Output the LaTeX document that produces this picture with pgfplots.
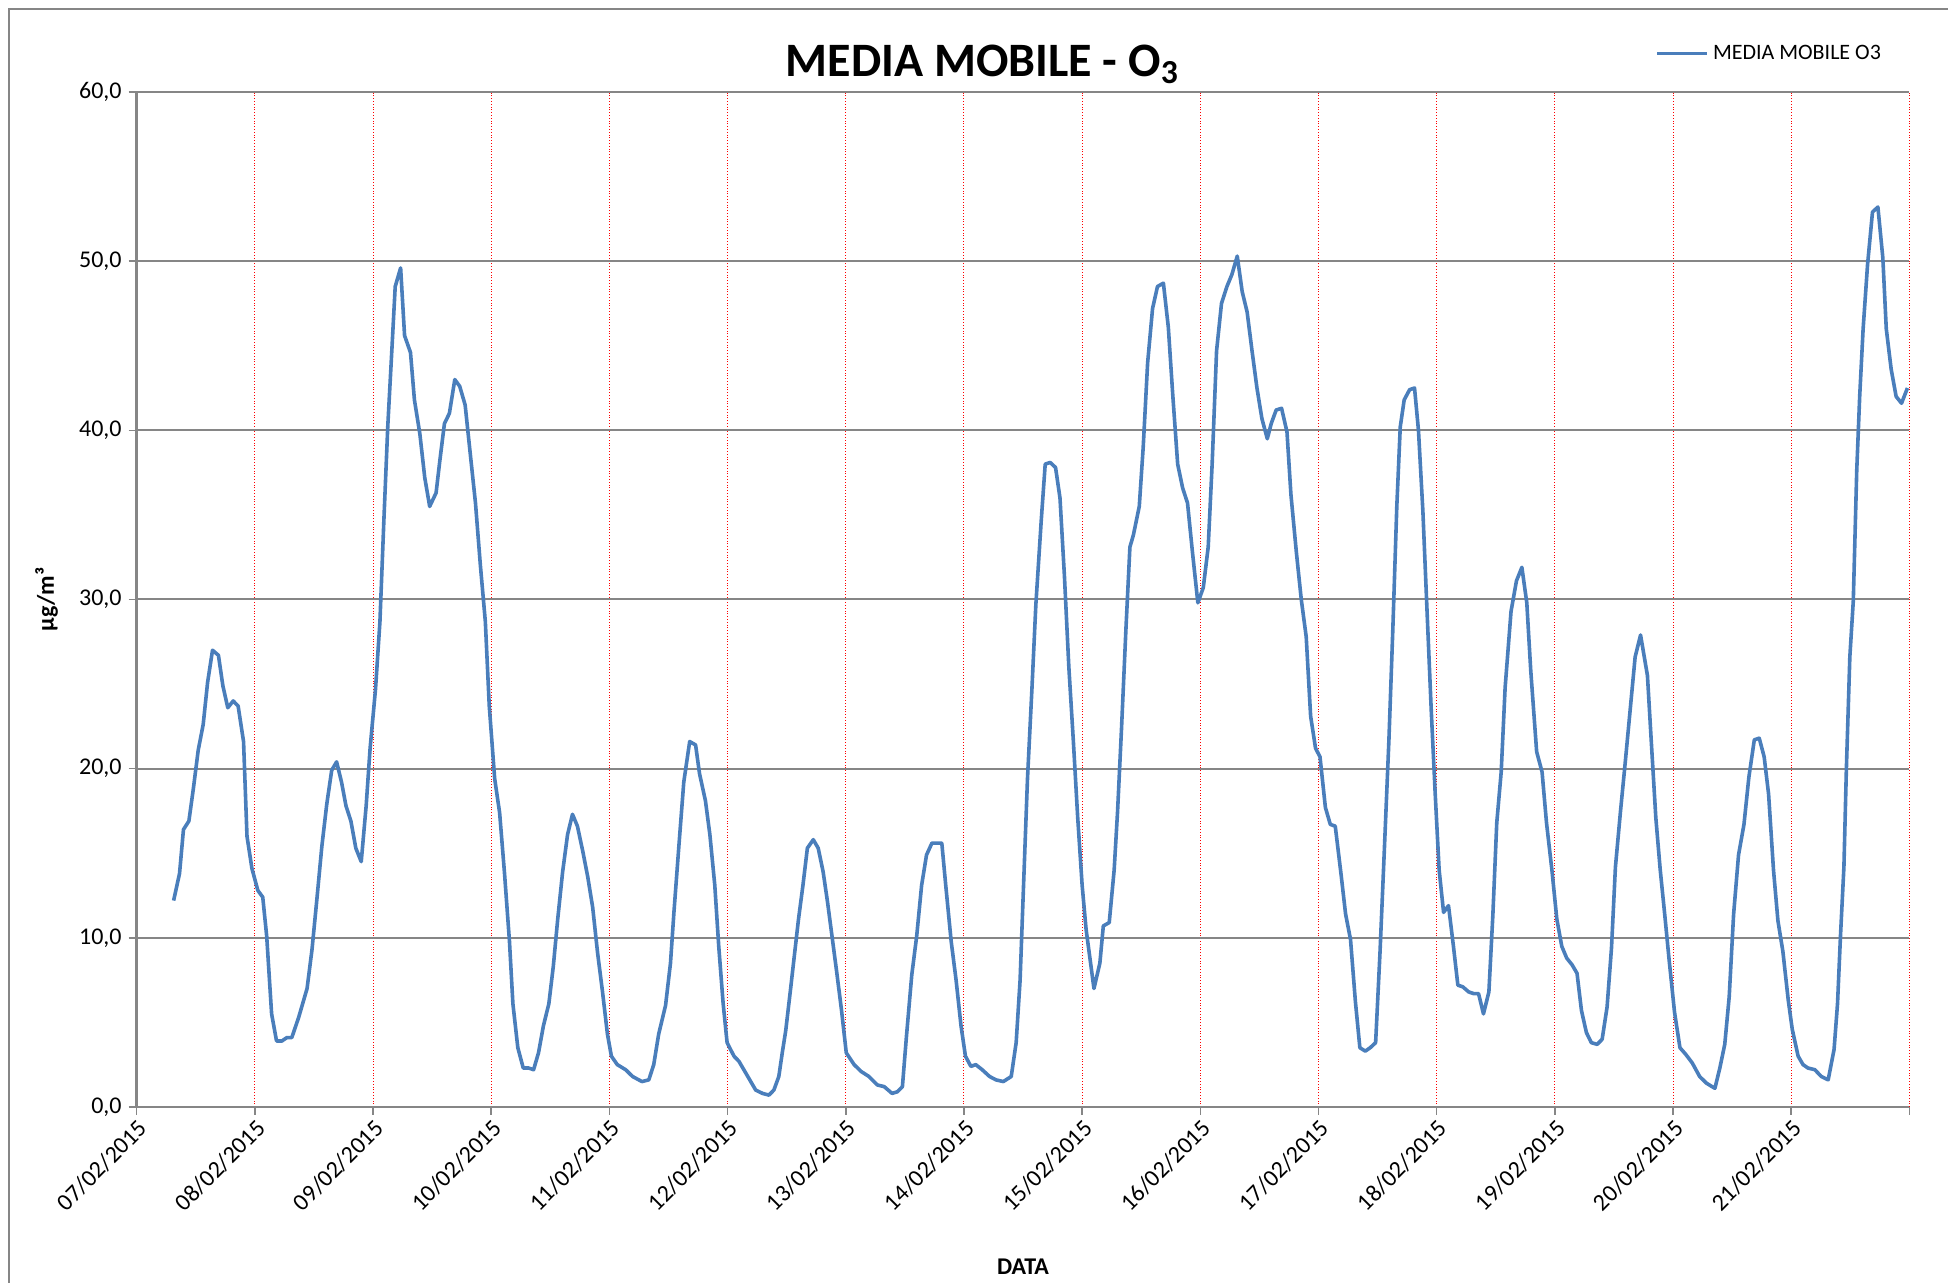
\documentclass[border=0pt]{standalone}
\usepackage{fontspec}
\setmainfont{Carlito}
\usepackage{pgfplots}
\pgfplotsset{compat=1.18}
\definecolor{serie}{RGB}{74,126,187}
\definecolor{griglia}{RGB}{134,134,134}

\begin{document}
\begin{tikzpicture}
\useasboundingbox (-68.35pt,-88pt) rectangle (905.7pt,553.5pt);
\draw[griglia, line width=1pt] (-64pt,-90pt) -- (-64pt,549.2pt) -- (910pt,549.2pt);
\begin{axis}[
  at={(0,0)}, anchor=south west,
  scale only axis, width=886.4pt, height=507.5pt,
  xmin=0, xmax=360, ymin=0, ymax=60,
  axis x line=bottom, axis y line=left,
  axis line style={-, griglia, line width=1.3pt},
  xtick={0,24,...,360},
  xticklabels={07/02/2015,08/02/2015,09/02/2015,10/02/2015,11/02/2015,12/02/2015,13/02/2015,14/02/2015,15/02/2015,16/02/2015,17/02/2015,18/02/2015,19/02/2015,20/02/2015,21/02/2015,},
  ytick={0,10,...,60},
  tick align=outside, major tick length=4pt,
  tick style={griglia, line width=0.8pt},
  grid=major,
  x grid style={red, densely dotted, line width=0.5pt},
  y grid style={griglia, line width=1pt},
  scaled y ticks=false,
  /pgf/number format/assume math mode=true,
  yticklabel style={/pgf/number format/fixed, /pgf/number format/fixed zerofill,
    /pgf/number format/precision=1, /pgf/number format/use comma,
    font=\fontsize{12}{14}\selectfont},
  xticklabel style={rotate=45, anchor=north east, inner sep=1pt, font=\fontsize{12}{14}\selectfont},
  title={MEDIA MOBILE - O\textsubscript{3}},
  title style={at={(0.477,1)}, anchor=base, yshift=1.9pt, font=\fontsize{24}{28}\selectfont\bfseries},
  xlabel={DATA},
  xlabel style={at={(0.5,-0.1576)}, anchor=center, font=\fontsize{12}{14}\selectfont\bfseries},
  ylabel={µg/m³},
  ylabel style={at={(-0.0508,0.5)}, anchor=center, font=\fontsize{12}{14}\selectfont\bfseries},
  legend style={draw=none, fill=none, at={(0.8565,1.038)}, anchor=west, inner sep=0pt,
    font=\fontsize{11}{13}\selectfont},
  legend cell align=left,
  legend image code/.code={\draw[#1, line width=1.8pt] (0pt,0pt) -- (25pt,0pt);},
]
\addplot[serie, line width=1.8pt, line join=round] coordinates {
(7.5,12.2) (8.7,13.8) (9.5,16.4) (10.6,16.9) (11.5,18.8) (12.5,21.1) (13.5,22.6) (14.4,25.1)
(15.4,27.0) (16.6,26.7) (17.5,24.9) (18.5,23.6) (19.6,24.0) (20.6,23.7) (21.7,21.6) (22.4,16.0)
(23.4,14.1) (24.6,12.8) (25.6,12.4) (26.4,10.1) (27.4,5.5) (28.4,3.9) (29.5,3.9) (30.5,4.1)
(31.5,4.1) (32.9,5.3) (34.6,7.0) (35.6,9.3) (36.6,12.3) (37.6,15.4) (38.6,17.9) (39.6,19.9)
(40.6,20.4) (41.6,19.2) (42.5,17.8) (43.5,16.9) (44.5,15.3) (45.6,14.5) (46.6,17.8) (47.4,21.2)
(48.5,24.7) (49.4,28.7) (50.2,34.7) (51.0,40.3) (51.7,44.1) (52.5,48.5) (53.6,49.6) (54.4,45.6)
(55.6,44.6) (56.4,41.8) (57.5,39.8) (58.5,37.2) (59.5,35.5) (60.8,36.3) (61.6,38.3) (62.5,40.4)
(63.5,41.0) (64.6,43.0) (65.6,42.6) (66.7,41.5) (67.6,39.0) (68.8,35.7) (69.8,32.0) (70.8,28.7)
(71.6,23.7) (72.7,19.4) (73.7,17.4) (74.7,13.8) (75.7,9.8) (76.4,6.1) (77.4,3.5) (78.5,2.3)
(79.6,2.3) (80.6,2.2) (81.6,3.2) (82.6,4.8) (83.7,6.1) (84.6,8.3) (85.5,11.1) (86.5,13.9)
(87.5,16.1) (88.5,17.3) (89.5,16.6) (90.6,15.1) (91.6,13.6) (92.6,11.8) (93.6,9.1) (94.6,6.8)
(95.6,4.3) (96.4,3.0) (97.6,2.5) (99.3,2.2) (100.7,1.8) (102.6,1.5) (104.0,1.6) (105.0,2.5)
(106.0,4.3) (107.4,6.0) (108.4,8.5) (109.1,11.5) (110.1,15.4) (111.1,19.2) (112.3,21.6) (113.5,21.4)
(114.3,19.7) (115.5,18.1) (116.4,16.1) (117.4,13.1) (118.2,9.5) (119.1,6.1) (119.9,3.8) (121.3,3.0)
(122.3,2.7) (123.3,2.2) (124.7,1.5) (125.7,1.0) (127.1,0.8) (128.4,0.7) (129.4,1.0) (130.4,1.8)
(131.1,3.2) (131.8,4.5) (132.8,7.0) (133.5,8.8) (134.4,11.1) (135.3,13.1) (136.2,15.3) (137.4,15.8)
(138.4,15.3) (139.4,13.9) (140.3,12.1) (141.2,10.1) (142.1,8.1) (143.1,5.8) (144.1,3.2) (145.7,2.5)
(147.1,2.1) (148.7,1.8) (150.4,1.3) (151.8,1.2) (153.4,0.8) (154.5,0.9) (155.5,1.2) (156.3,4.1)
(157.4,7.8) (158.4,10.1) (159.4,13.1) (160.4,14.9) (161.5,15.6) (162.4,15.6) (163.5,15.6) (164.3,13.1)
(165.4,9.8) (166.4,7.5) (167.4,4.8) (168.3,3.0) (169.4,2.4) (170.4,2.5) (171.7,2.2) (173.2,1.8)
(174.5,1.6) (176.0,1.5) (177.6,1.8) (178.6,3.8) (179.4,7.5) (180.1,13.1) (180.9,19.4) (181.8,24.7)
(182.6,29.7) (183.7,34.7) (184.5,38.0) (185.5,38.1) (186.6,37.8) (187.5,36.0) (188.4,31.4) (189.3,26.0)
(190.2,21.7) (191.1,17.1) (192.0,13.1) (192.8,10.5) (194.4,7.0) (195.6,8.5) (196.3,10.7) (197.5,10.9)
(198.5,14.0) (199.2,17.5) (200.0,22.4) (200.9,28.3) (201.7,33.1) (202.4,33.8) (203.6,35.5) (204.4,39.0)
(205.3,44.0) (206.3,47.2) (207.3,48.5) (208.5,48.7) (209.5,46.1) (210.4,42.1) (211.4,38.0) (212.4,36.6)
(213.4,35.7) (214.4,32.8) (215.5,29.8) (216.6,30.7) (217.6,33.1) (218.4,38.0) (219.3,44.7) (220.3,47.5)
(221.4,48.5) (222.4,49.2) (223.5,50.3) (224.5,48.2) (225.5,47.0) (226.5,44.7) (227.5,42.5) (228.5,40.7)
(229.6,39.5) (230.4,40.4) (231.4,41.2) (232.5,41.3) (233.6,39.9) (234.4,36.2) (235.5,32.8) (236.5,30.0)
(237.5,27.8) (238.4,23.1) (239.4,21.2) (240.3,20.7) (241.4,17.7) (242.4,16.7) (243.4,16.6) (244.6,13.7)
(245.5,11.4) (246.5,9.9) (247.5,6.2) (248.4,3.5) (249.5,3.3) (250.5,3.5) (251.6,3.8) (252.5,9.2)
(253.4,15.4) (254.3,21.7) (255.1,28.3) (255.9,35.5) (256.6,40.2) (257.4,41.8) (258.5,42.4) (259.5,42.5)
(260.3,40.0) (261.2,35.2) (262.0,29.6) (262.9,23.4) (263.7,18.5) (264.5,14.0) (265.4,11.5) (266.4,11.9)
(267.4,9.5) (268.3,7.2) (269.3,7.1) (270.5,6.8) (271.5,6.7) (272.5,6.7) (273.5,5.5) (274.6,6.8)
(275.4,11.3) (276.2,16.8) (277.1,19.8) (277.9,24.8) (279.1,29.3) (280.2,31.1) (281.3,31.9) (282.3,29.8)
(283.1,25.8) (284.3,21.0) (285.4,19.8) (286.3,16.8) (287.4,14.0) (288.4,11.1) (289.4,9.5) (290.4,8.8)
(291.5,8.4) (292.5,7.9) (293.4,5.7) (294.4,4.4) (295.4,3.8) (296.6,3.7) (297.6,4.0) (298.6,5.9)
(299.5,9.4) (300.3,14.2) (301.3,17.4) (302.3,20.4) (303.3,23.5) (304.3,26.6) (305.4,27.9) (306.8,25.5)
(307.6,21.5) (308.5,17.1) (309.4,14.0) (310.3,11.4) (311.2,8.7) (312.3,5.6) (313.4,3.5) (314.6,3.1)
(315.9,2.6) (317.4,1.8) (318.8,1.4) (320.5,1.1) (321.5,2.3) (322.5,3.7) (323.4,6.5) (324.3,11.4)
(325.3,14.9) (326.4,16.7) (327.4,19.5) (328.5,21.7) (329.5,21.8) (330.5,20.7) (331.4,18.5) (332.4,14.0)
(333.3,11.0) (334.3,9.2) (335.4,6.3) (336.2,4.6) (337.4,3.0) (338.4,2.5) (339.4,2.3) (340.8,2.2)
(342.1,1.8) (343.5,1.6) (344.7,3.4) (345.4,6.1) (346.0,10.1) (346.7,14.2) (347.2,20.0) (347.9,26.6)
(348.6,29.9) (349.3,37.6) (349.9,42.0) (350.6,46.0) (351.5,49.8) (352.5,52.9) (353.6,53.2) (354.6,50.2)
(355.3,46.0) (356.3,43.6) (357.3,42.0) (358.4,41.6) (359.6,42.5)
};
\addlegendentry{MEDIA MOBILE O3}
\end{axis}
\end{tikzpicture}
\end{document}
